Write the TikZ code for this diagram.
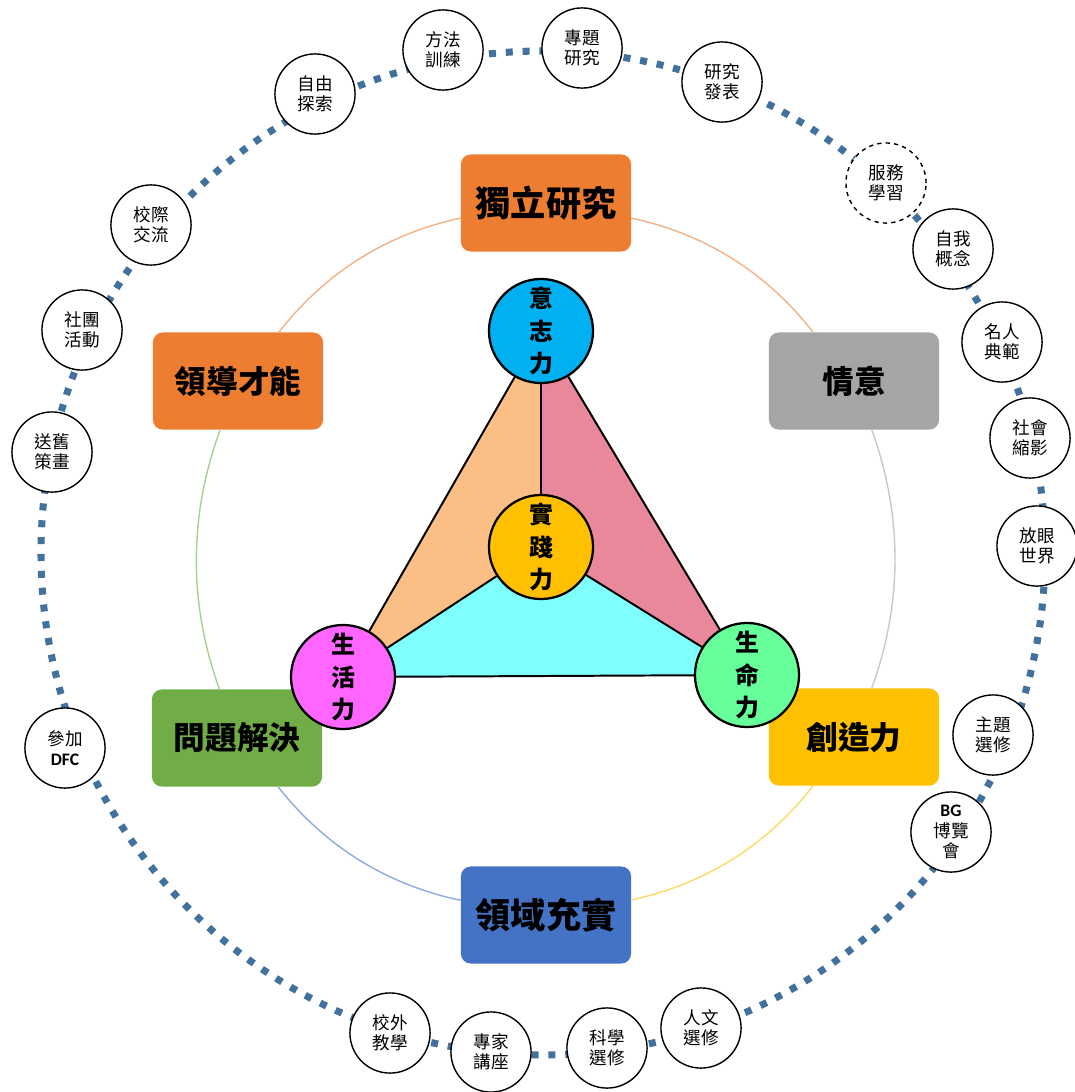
\documentclass[tikz,border=0pt]{standalone}
\usepackage{fontspec}
\newfontfamily\cjk{Noto Sans CJK TC}
\newfontfamily\latin{Carlito}
\usetikzlibrary{positioning}

\definecolor{ringblue}{HTML}{41719C}
\definecolor{boxorange}{HTML}{ED7D31}
\definecolor{boxgray}{HTML}{A5A5A5}
\definecolor{boxyellow}{HTML}{FFC000}
\definecolor{boxblue}{HTML}{4472C4}
\definecolor{boxgreen}{HTML}{70AD47}
\definecolor{arcorange}{HTML}{F4B183}
\definecolor{arcgray}{HTML}{C9C9C9}
\definecolor{arcyellow}{HTML}{FFD966}
\definecolor{arcblue}{HTML}{8FAADC}
\definecolor{arcgreen}{HTML}{A9D18E}
\definecolor{wedgeorange}{HTML}{FBBE84}
\definecolor{wedgepink}{HTML}{E9889A}
\definecolor{wedgecyan}{HTML}{80FFFF}
\definecolor{coreblue}{HTML}{00B0F0}
\definecolor{coreyellow}{HTML}{FFC000}
\definecolor{corepink}{HTML}{FF66FF}
\definecolor{coregreen}{HTML}{66FF99}

\begin{document}
\begin{tikzpicture}[x=0.025cm,y=-0.025cm,
    area/.style={rounded corners=7pt,minimum width=121pt,minimum height=69pt,inner sep=0pt,
      font=\cjk\bfseries\fontsize{22.5}{26}\selectfont},
    core/.style={circle,draw,line width=1.6pt,minimum size=74pt,inner sep=0pt,align=center,
      font=\cjk\bfseries\fontsize{17}{23}\selectfont},
    item/.style={circle,draw,fill=white,line width=1pt,minimum size=57pt,inner sep=0pt,align=center,
      font=\cjk\fontsize{12.5}{14.5}\selectfont},
    link/.style={line width=1pt,bend left=20,looseness=0.9},
    spoke/.style={line width=1.4pt}]
  \useasboundingbox (0,0) rectangle (1075,1092);

  % outer ring of activities
  \draw[ringblue,line width=5pt,dash pattern=on 5pt off 7pt] (543,553) circle (502);

  \node[item] (method) at (443,50) {方法\\訓練};
  \node[item] (topic) at (582,48) {專題\\研究};
  \node[item] (present) at (722,82) {研究\\發表};
  \node[item,dashed] (service) at (886,183) {服務\\學習};
  \node[item] (self) at (953,249) {自我\\概念};
  \node[item] (model) at (1002,342) {名人\\典範};
  \node[item] (society) at (1030,438) {社會\\縮影};
  \node[item] (world) at (1037,546) {放眼\\世界};
  \node[item] (elective) at (993,735) {主題\\選修};
  \node[item] (expo) at (951,832) {{\latin\bfseries BG}\\博覽\\會};
  \node[item] (human) at (701,1028) {人文\\選修};
  \node[item] (science) at (607,1048) {科學\\選修};
  \node[item] (expert) at (491,1052) {專家\\講座};
  \node[item] (visit) at (390,1033) {校外\\教學};
  \node[item] (dfc) at (65,748) {參加\\{\latin\bfseries DFC}};
  \node[item] (farewell) at (52,452) {送舊\\策畫};
  \node[item] (club) at (82,330) {社團\\活動};
  \node[item] (exchange) at (151,225) {校際\\交流};
  \node[item] (explore) at (315,94) {自由\\探索};

  % six areas
  \node[area,fill=boxorange,font=\cjk\bfseries\fontsize{25}{28}\selectfont] (research) at (546,203) {獨立研究};
  \node[area,fill=boxgray] (affect) at (854,381) {情意};
  \node[area,fill=boxyellow] (creative) at (854,737) {創造力};
  \node[area,fill=boxblue,font=\cjk\bfseries\fontsize{25}{28}\selectfont] (domain) at (546,915) {領域充實};
  \node[area,fill=boxgreen] (problem) at (237,738) {問題解決};
  \node[area,fill=boxorange] (leader) at (238,381) {領導才能};

  \draw[link,arcorange] (research) to (affect);
  \draw[link,arcgray] (affect) to (creative);
  \draw[link,arcyellow] (creative) to (domain);
  \draw[link,arcblue] (domain) to (problem);
  \draw[link,arcgreen] (problem) to (leader);
  \draw[link,arcorange] (leader) to (research);

  % triangle
  \coordinate (p-will) at (541,331);
  \coordinate (p-practice) at (541,547);
  \coordinate (p-living) at (343,677);
  \coordinate (p-vital) at (747,675);
  \fill[wedgeorange] (p-will) -- (p-practice) -- (p-living) -- cycle;
  \fill[wedgepink] (p-will) -- (p-practice) -- (p-vital) -- cycle;
  \fill[wedgecyan] (p-living) -- (p-practice) -- (p-vital) -- cycle;

  \node[core,fill=coreblue] (will) at (p-will) {意\\志\\力};
  \node[core,fill=coreyellow] (practice) at (p-practice) {實\\踐\\力};
  \node[core,fill=corepink] (living) at (p-living) {生\\活\\力};
  \node[core,fill=coregreen] (vital) at (p-vital) {生\\命\\力};

  \draw[spoke] (will) -- (living);
  \draw[spoke] (will) -- (vital);
  \draw[spoke] (living) -- (vital);
  \draw[spoke] (will) -- (practice);
  \draw[spoke] (living) -- (practice);
  \draw[spoke] (vital) -- (practice);
\end{tikzpicture}
\end{document}
